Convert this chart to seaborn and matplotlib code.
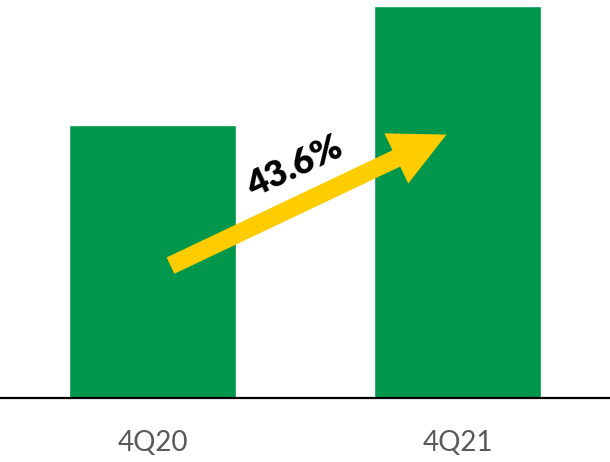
import matplotlib
matplotlib.use("Agg")
import matplotlib.pyplot as plt
import seaborn as sns
import pandas as pd

categories = ["4Q20", "4Q21"]
values = [100.0, 143.6]
growth_label = "43.6%"

sns.set_theme(style="white")
plt.rcParams['font.family'] = ['Lato', 'DejaVu Sans']

df = pd.DataFrame({"period": categories, "value": values})

fig = plt.figure(figsize=(6.10, 4.62), dpi=100)
ax = fig.add_axes([0, 0.1385, 1, 0.8615])

sns.barplot(data=df, x="period", y="value", color="#00964B", saturation=1,
            width=0.55, ax=ax)

ax.set_xlim(-0.5, 1.5)
ax.set_ylim(0, 145.8)
ax.set_xlabel("")
ax.set_ylabel("")
ax.set_yticks([])
for s in ["top", "left", "right"]:
    ax.spines[s].set_visible(False)
ax.spines["bottom"].set_color("black")
ax.spines["bottom"].set_linewidth(1.6)
ax.tick_params(axis="x", length=0, pad=23, labelsize=20, labelcolor="#595959")

# growth arrow
ax.annotate("", xy=(0.964, 96.5), xytext=(0.059, 48.5), xycoords="data",
            arrowprops=dict(arrowstyle="simple,head_length=40,head_width=40,tail_width=13",
                            mutation_scale=1, color="#FFCC00", shrinkA=0, shrinkB=0, lw=0))
ax.text(0.466, 84.5, growth_label, rotation=25, ha="center", va="center",
        fontsize=26, fontweight="heavy", color="black", rotation_mode="anchor")

fig.savefig("out.png", dpi=100)
